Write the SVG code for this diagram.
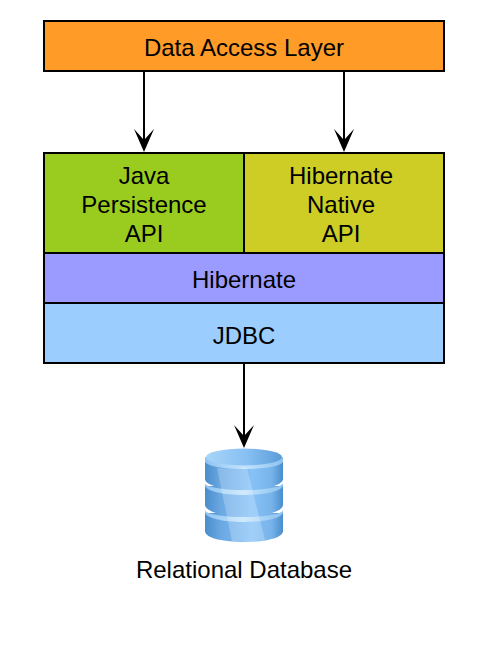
<svg xmlns="http://www.w3.org/2000/svg" width="494" height="646" viewBox="0 0 494 646">
<style>
.b{stroke:#000;stroke-width:2}
.c{stroke:#000;stroke-width:2;fill:none;marker-end:url(#arrow)}
text{font-family:"Liberation Sans",Arial,sans-serif;font-size:24px;fill:#000;text-anchor:middle}
</style>
<defs>
<marker id="arrow" markerUnits="userSpaceOnUse" markerWidth="24" markerHeight="22" refX="17" refY="11" orient="auto" viewBox="0 0 24 22"><path d="M24 11L1 1L12 11L1 21Z" fill="#000"/></marker>
<linearGradient id="side" x1="0" x2="1" y1="0" y2="0"><stop offset="0" stop-color="#4a8ccb"/><stop offset=".2" stop-color="#6aa8e2"/><stop offset=".6" stop-color="#86c2f8"/><stop offset=".85" stop-color="#78b4ea"/><stop offset="1" stop-color="#4a8ecd"/></linearGradient>
<linearGradient id="top" x1="0" x2="1" y1="0" y2="0"><stop offset="0" stop-color="#a8d5f9"/><stop offset=".55" stop-color="#86bff2"/><stop offset="1" stop-color="#5a9cd8"/></linearGradient>
<linearGradient id="rim" x1="0" x2="1" y1="0" y2="0"><stop offset="0" stop-color="#8ec4f2"/><stop offset=".5" stop-color="#c4e4fc"/><stop offset="1" stop-color="#8cc2f0"/></linearGradient>
</defs>
<rect width="494" height="646" fill="#fff"/>
<g id="connectors">
<path class="c" d="M144 71V145"/>
<path class="c" d="M344 71V145"/>
<path class="c" d="M244 363V441"/>
</g>
<g id="data-access-layer"><rect class="b" x="44" y="21" width="400" height="50" fill="#ff9b26"/><text x="244" y="56">Data Access Layer</text></g>
<g id="jpa"><rect class="b" x="44" y="153" width="200" height="100" fill="#9acc1f"/><text x="144" y="184">Java</text><text x="144" y="213">Persistence</text><text x="144" y="242">API</text></g>
<g id="hibernate-native"><rect class="b" x="244" y="153" width="200" height="100" fill="#cdcd26"/><text x="341" y="184">Hibernate</text><text x="341" y="213">Native</text><text x="341" y="242">API</text></g>
<g id="hibernate"><rect class="b" x="44" y="253" width="400" height="50" fill="#9b9bff"/><text x="244" y="288">Hibernate</text></g>
<g id="jdbc"><rect class="b" x="44" y="303" width="400" height="60" fill="#9bcdff"/><text x="244" y="344">JDBC</text></g>
<g id="database">
<path d="M205 513H283V531C283 538 265 542 244 542C223 542 205 538 205 531Z" fill="url(#side)"/>
<path d="M205 512C205 518 223 522 244 522C265 522 283 518 283 512V510C283 514 265 517 244 517C223 517 205 514 205 510Z" fill="url(#rim)"/>
<path d="M205 486H283V505C283 511 265 517 244 517C223 517 205 511 205 505Z" fill="url(#side)"/>
<path d="M205 485C205 491 223 495 244 495C265 495 283 491 283 485V483C283 487 265 490 244 490C223 490 205 487 205 483Z" fill="url(#rim)"/>
<path d="M205 462H283V479C283 485 265 490 244 490C223 490 205 485 205 479Z" fill="url(#side)"/>
<path d="M205 461C205 466 223 469 244 469C265 469 283 466 283 461V457H205Z" fill="url(#rim)"/>
<ellipse cx="244" cy="457" rx="38" ry="8.500" fill="url(#top)"/>
<path d="M217 468C227 469 237 469 247 468L265 540C254 542 243 542 232 541Z" fill="#fff" opacity=".22"/>
<text x="244" y="578">Relational Database</text>
</g>
</svg>
